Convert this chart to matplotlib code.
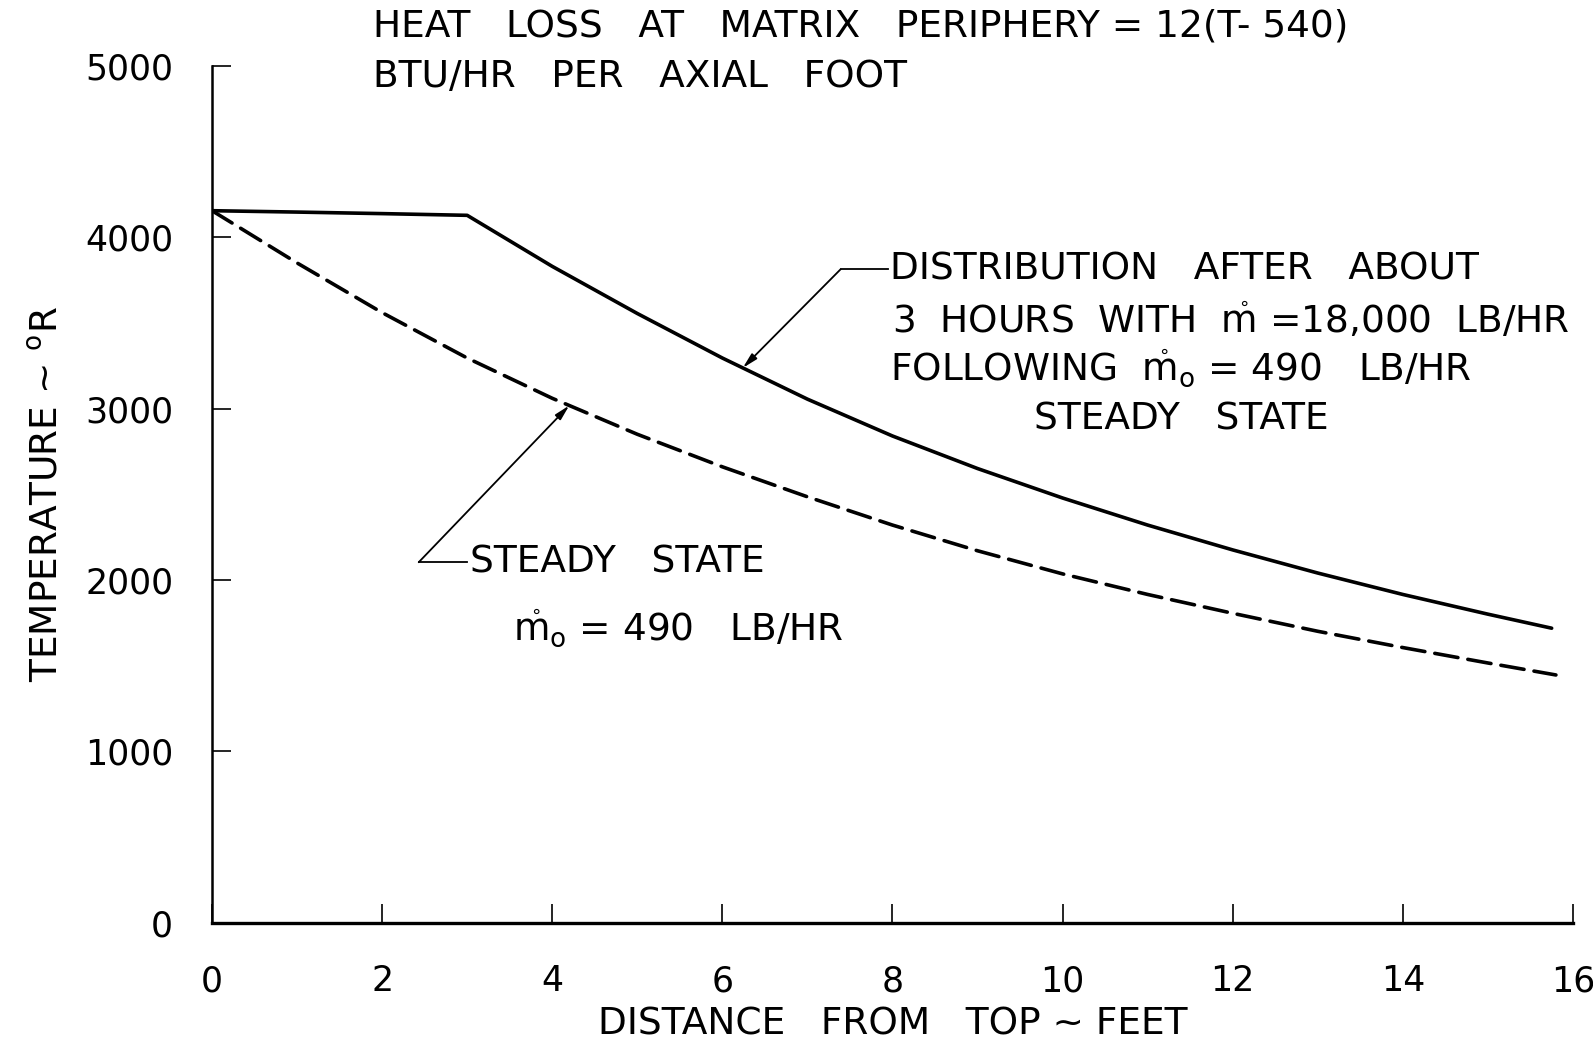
import numpy as np
import matplotlib
matplotlib.use('Agg')
import matplotlib.pyplot as plt

# distance from top (ft) and temperature (deg R)
dist_transient = [0, 1, 2, 3, 4, 5, 6, 7, 8, 9, 10, 11, 12, 13, 14, 15, 15.75]
temp_transient = [4155, 4147, 4138, 4128, 3830, 3555, 3295, 3055, 2840, 2650,
                  2478, 2320, 2175, 2040, 1915, 1800, 1718]

dist_steady = [0, 1, 2, 3, 4, 5, 6, 7, 8, 9, 10, 11, 12, 13, 14, 15, 15.8]
temp_steady = [4155, 3850, 3560, 3295, 3060, 2850, 2660, 2485, 2320, 2170,
               2035, 1915, 1805, 1700, 1605, 1515, 1445]

x_ticks = [0, 2, 4, 6, 8, 10, 12, 14, 16]
y_ticks = [0, 1000, 2000, 3000, 4000, 5000]

plt.rcParams['font.family'] = ['DejaVu Sans']
plt.rcParams['mathtext.fontset'] = 'dejavusans'

fig = plt.figure(figsize=(15.93, 10.45), dpi=100)
ax = fig.add_axes([0.1331, 0.1172, 0.8543, 0.8197])

ax.plot(dist_transient, temp_transient, color='black', lw=2.6,
        solid_capstyle='round', solid_joinstyle='round')
ax.plot(dist_steady, temp_steady, color='black', lw=2.6,
        linestyle=(0, (6.5, 2.8)), dash_capstyle='round')

ax.set_xlim(0, 16)
ax.set_ylim(0, 5000)
ax.set_xticks(x_ticks)
ax.set_yticks(y_ticks)
ax.set_xticklabels([str(t) for t in x_ticks], fontsize=25)
ax.set_yticklabels([str(t) for t in y_ticks], fontsize=25)
ax.tick_params(axis='x', direction='in', length=14, width=1.2, pad=30)
ax.tick_params(axis='y', direction='in', length=14, width=1.2, pad=28)

for side in ['top', 'right']:
    ax.spines[side].set_visible(False)
ax.spines['left'].set_linewidth(1.8)
ax.spines['bottom'].set_linewidth(2.4)

ax.set_xlabel('DISTANCE   FROM   TOP ~ FEET', fontsize=27, labelpad=6)
ax.set_ylabel('TEMPERATURE ~ $^{\\mathrm{o}}$R', fontsize=27, labelpad=14)

# header note
fig.text(373 / 1593, 1 - 27 / 1045,
         'HEAT   LOSS   AT   MATRIX   PERIPHERY = 12(T- 540)',
         fontsize=27, ha='left', va='center')
fig.text(373 / 1593, 1 - 77 / 1045, 'BTU/HR   PER   AXIAL   FOOT',
         fontsize=27, ha='left', va='center')

arrow = dict(arrowstyle='-|>,head_length=0.9,head_width=0.22',
             color='black', lw=1.3, shrinkA=0, shrinkB=0)

# transient curve callout
tip_x = 6.24
tip_y = np.interp(tip_x, dist_transient, temp_transient)
ax.annotate('', xy=(tip_x, tip_y), xytext=(7.39, 3813), arrowprops=arrow)
ax.plot([7.39, 7.95], [3813, 3813], color='black', lw=1.3)
ax.text(7.97, 3813, 'DISTRIBUTION   AFTER   ABOUT', fontsize=27,
        ha='left', va='center')
ax.text(8.0, 3510,
        '3  HOURS  WITH  $\\mathring{\\mathrm{m}}$ =18,000  LB/HR',
        fontsize=27, ha='left', va='center')
ax.text(7.97, 3235,
        'FOLLOWING  $\\mathring{\\mathrm{m}}_{\\mathrm{o}}$ = 490   LB/HR',
        fontsize=27, ha='left', va='center')
ax.text(11.39, 2938, 'STEADY   STATE', fontsize=27, ha='center', va='center')

# steady state callout
tip_x = 4.2
tip_y = np.interp(tip_x, dist_steady, temp_steady)
ax.annotate('', xy=(tip_x, tip_y), xytext=(2.43, 2103), arrowprops=arrow)
ax.plot([2.43, 3.0], [2103, 2103], color='black', lw=1.3)
ax.text(3.03, 2103, 'STEADY   STATE', fontsize=27, ha='left', va='center')
ax.text(3.54, 1718, '$\\mathring{\\mathrm{m}}_{\\mathrm{o}}$ = 490   LB/HR',
        fontsize=27, ha='left', va='center')

fig.savefig('out.png', dpi=100)
